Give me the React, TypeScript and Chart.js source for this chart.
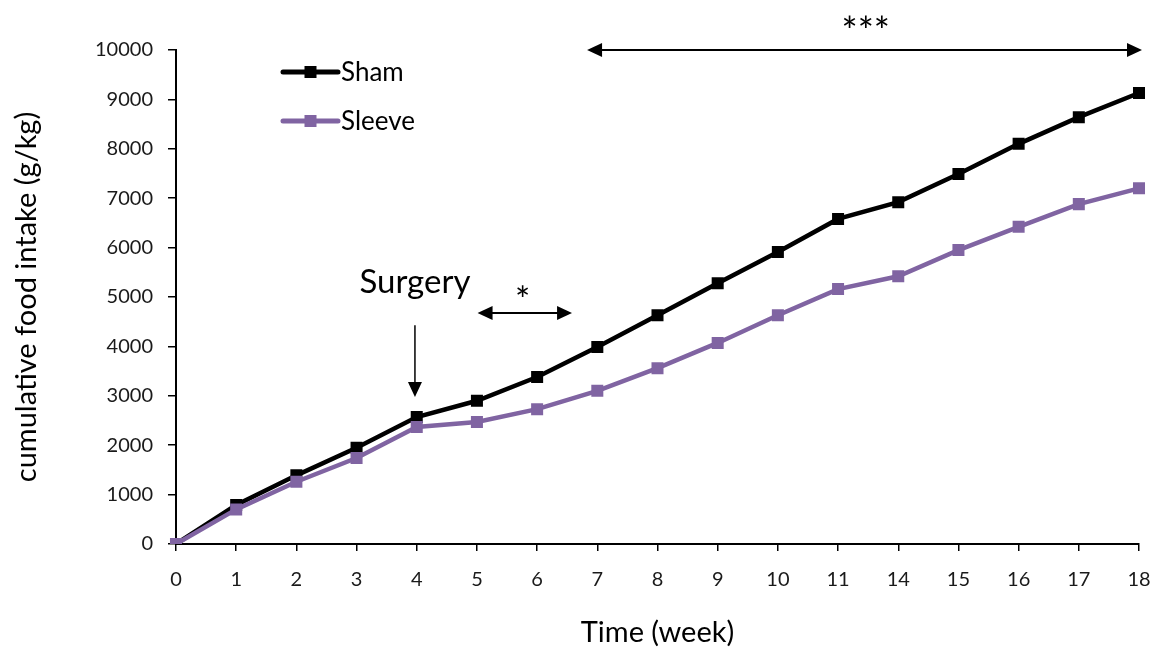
import React, { useEffect, useRef } from "react";
import { Chart, registerables } from "chart.js";

Chart.register(...registerables);

const weeks = ["0", "1", "2", "3", "4", "5", "6", "7", "8", "9", "10", "11", "14", "15", "16", "17", "18"];
const shamValues = [0, 790, 1390, 1950, 2570, 2900, 3380, 3990, 4630, 5280, 5910, 6580, 6920, 7490, 8100, 8640, 9130];
const sleeveValues = [0, 700, 1260, 1740, 2370, 2470, 2730, 3100, 3560, 4070, 4630, 5160, 5420, 5950, 6420, 6880, 7200];

// annotation anchors in data coordinates (category index, value)
const arrowsDouble = [
  { x1: 5.01, x2: 6.58, y: 4676 },
  { x1: 6.83, x2: 16.05, y: 10000 },
];
const arrowDown = { x: 3.97, yFrom: 4430, yTo: 2976 };
const noteTexts = [
  { text: "Surgery", x: 3.97, y: 5304, size: 33, dy: 0 },
  { text: "*", x: 5.76, y: 5101, size: 36, dy: 9 },
  { text: "***", x: 11.46, y: 10567, size: 38, dy: 11 },
];

const FONT = "Lato, 'Open Sans', sans-serif";
const SHAM_COLOR = "#000000";
const SLEEVE_COLOR = "#8064A2";

function head(ctx: CanvasRenderingContext2D, tx: number, ty: number, dx: number, dy: number, len: number, half: number) {
  const bx = tx - dx * len;
  const by = ty - dy * len;
  const px = -dy;
  const py = dx;
  ctx.beginPath();
  ctx.moveTo(tx, ty);
  ctx.lineTo(bx + px * half, by + py * half);
  ctx.lineTo(bx - px * half, by - py * half);
  ctx.closePath();
  ctx.fill();
}

const annotationPlugin = {
  id: "annots",
  afterDraw(chart: any) {
    const ctx: CanvasRenderingContext2D = chart.ctx;
    const xs = chart.scales.x;
    const ys = chart.scales.y;
    ctx.save();
    ctx.strokeStyle = "#000";
    ctx.fillStyle = "#000";

    for (const a of arrowsDouble) {
      const x1 = xs.getPixelForValue(a.x1);
      const x2 = xs.getPixelForValue(a.x2);
      const y = ys.getPixelForValue(a.y);
      ctx.lineWidth = 2;
      ctx.beginPath();
      ctx.moveTo(x1 + 10, y);
      ctx.lineTo(x2 - 10, y);
      ctx.stroke();
      head(ctx, x1, y, -1, 0, 15, 7);
      head(ctx, x2, y, 1, 0, 15, 7);
    }

    {
      const x = xs.getPixelForValue(arrowDown.x);
      const y1 = ys.getPixelForValue(arrowDown.yFrom);
      const y2 = ys.getPixelForValue(arrowDown.yTo);
      ctx.lineWidth = 1.5;
      ctx.beginPath();
      ctx.moveTo(x, y1);
      ctx.lineTo(x, y2 - 10);
      ctx.stroke();
      head(ctx, x, y2, 0, 1, 15, 7);
    }

    ctx.textAlign = "center";
    ctx.textBaseline = "middle";
    for (const t of noteTexts) {
      ctx.font = `${t.size}px ${FONT}`;
      const x = xs.getPixelForValue(t.x);
      const y = ys.getPixelForValue(t.y) + t.dy;
      ctx.fillText(t.text, x, y);
    }

    const ca = chart.chartArea;
    const items = [
      { label: chart.data.datasets[0].label, color: SHAM_COLOR, y: ca.top + 22 },
      { label: chart.data.datasets[1].label, color: SLEEVE_COLOR, y: ca.top + 71 },
    ];
    const lx1 = ca.left + 107;
    const lx2 = ca.left + 162;
    for (const it of items) {
      ctx.strokeStyle = it.color;
      ctx.fillStyle = it.color;
      ctx.lineWidth = 5;
      ctx.lineCap = "round";
      ctx.beginPath();
      ctx.moveTo(lx1, it.y);
      ctx.lineTo(lx2, it.y);
      ctx.stroke();
      const mx = (lx1 + lx2) / 2;
      ctx.fillRect(mx - 6, it.y - 6, 12, 12);
      ctx.fillStyle = "#000";
      ctx.textAlign = "left";
      ctx.font = `26px ${FONT}`;
      ctx.fillText(it.label, lx2 + 3, it.y + 1);
    }
    ctx.restore();
  },
};

export default function App() {
  const canvasRef = useRef<HTMLCanvasElement | null>(null);

  useEffect(() => {
    if (!canvasRef.current) return;
    const chart = new Chart(canvasRef.current, {
      type: "line",
      data: {
        labels: weeks,
        datasets: [
          {
            label: "Sham",
            data: shamValues,
            borderColor: SHAM_COLOR,
            backgroundColor: SHAM_COLOR,
            borderWidth: 4.5,
            pointStyle: "rect",
            pointRadius: 8.5,
            pointBorderWidth: 0,
            pointBackgroundColor: SHAM_COLOR,
            tension: 0,
            order: 1,
          },
          {
            label: "Sleeve",
            data: sleeveValues,
            borderColor: SLEEVE_COLOR,
            backgroundColor: SLEEVE_COLOR,
            borderWidth: 4.5,
            pointStyle: "rect",
            pointRadius: 8.5,
            pointBorderWidth: 0,
            pointBackgroundColor: SLEEVE_COLOR,
            tension: 0,
            order: 0,
          },
        ],
      },
      options: {
        animation: false,
        responsive: true,
        maintainAspectRatio: false,
        layout: { padding: { top: 50, right: 22, left: 0, bottom: 0 } },
        plugins: {
          legend: { display: false },
          tooltip: { enabled: false },
        },
        scales: {
          x: {
            type: "category",
            offset: false,
            grid: { display: true, drawOnChartArea: false, drawTicks: true, tickLength: 7, color: "#000", lineWidth: 1.5 },
            border: { display: true, color: "#000", width: 2 },
            ticks: { color: "#1a1a1a", font: { family: FONT, size: 20, lineHeight: 2.3 }, padding: 6, maxRotation: 0, autoSkip: false },
            title: { display: true, text: "Time (week)", color: "#000", font: { family: FONT, size: 29 }, padding: { top: 0, bottom: 3 } },
            afterFit: (scale: any) => { scale.height = 109; },
          },
          y: {
            min: 0,
            max: 10000,
            grid: { display: true, drawOnChartArea: false, drawTicks: true, tickLength: 8, color: "#000", lineWidth: 1.5 },
            border: { display: true, color: "#000", width: 2 },
            ticks: {
              stepSize: 1000,
              color: "#1a1a1a",
              font: { family: FONT, size: 20 },
              padding: 15,
              callback: (v: any) => String(v),
            },
            title: { display: true, text: "cumulative food intake (g/kg)", color: "#000", font: { family: FONT, size: 29 }, padding: { top: 9, bottom: 0 } },
            afterFit: (scale: any) => { scale.width = 176; },
          },
        },
      },
      plugins: [annotationPlugin],
    });
    return () => chart.destroy();
  }, []);

  return (
    <div style={{ position: "absolute", left: 0, top: 0, width: 1161, height: 653, background: "#fff", overflow: "hidden" }}>
      <canvas ref={canvasRef} style={{ display: "block" }} />
    </div>
  );
}
